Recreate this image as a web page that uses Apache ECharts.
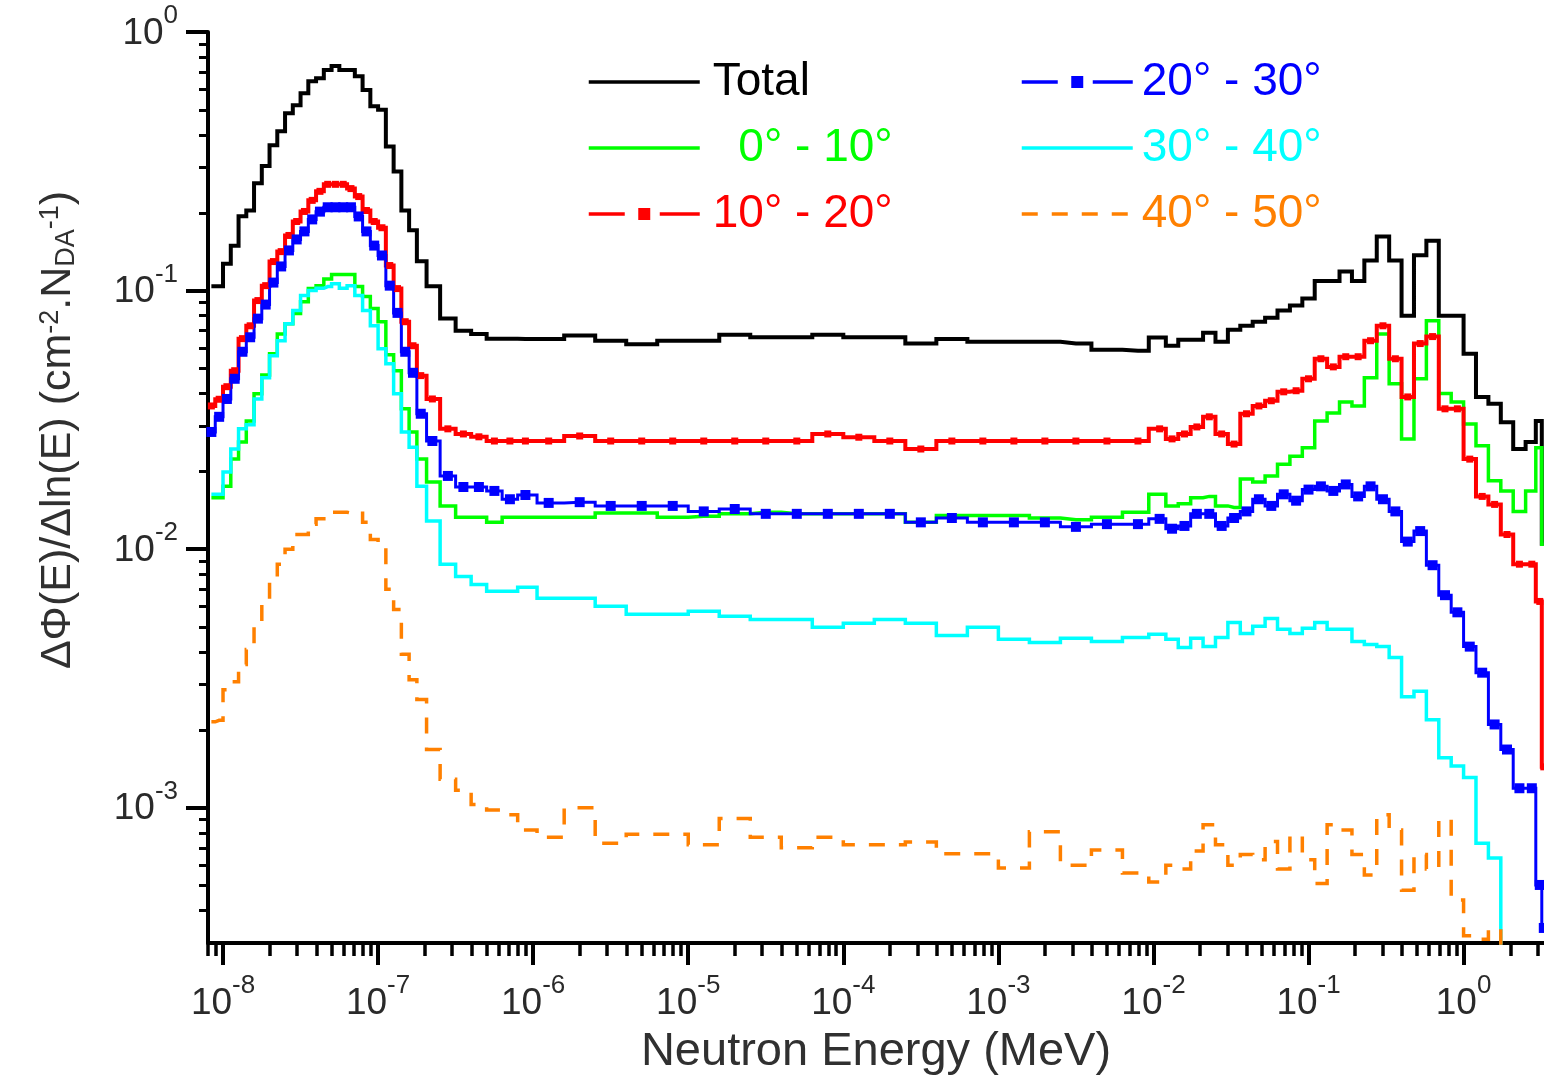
<!DOCTYPE html>
<html>
<head>
<meta charset="utf-8">
<script src="https://cdn.jsdelivr.net/npm/echarts/dist/echarts.min.js"></script>
<style>html,body{margin:0;padding:0;background:#fff}#c{width:1544px;height:1075px}</style>
</head>
<body>
<div id="c"></div>
<script>
// Bin-centre neutron energies (MeV)
const energy = [
  8.41e-9, 9.44e-9, 1.059e-8, 1.189e-8, 1.334e-8, 1.496e-8, 1.679e-8, 1.884e-8, 2.113e-8, 2.371e-8,
  2.661e-8, 2.985e-8, 3.350e-8, 3.758e-8, 4.217e-8, 4.732e-8, 5.309e-8, 5.957e-8, 6.683e-8, 7.499e-8,
  8.414e-8, 9.441e-8, 1.059e-7, 1.189e-7, 1.334e-7, 1.496e-7, 1.679e-7, 1.884e-7,
  2.239e-7, 2.818e-7, 3.548e-7, 4.467e-7, 5.623e-7, 7.079e-7, 8.913e-7,
  1.259e-6, 1.995e-6, 3.162e-6, 5.012e-6, 7.943e-6, 1.259e-5, 1.995e-5, 3.162e-5, 5.012e-5, 7.943e-5,
  1.259e-4, 1.995e-4, 3.162e-4, 5.012e-4, 7.943e-4, 1.259e-3, 1.995e-3, 3.162e-3, 5.012e-3, 7.943e-3,
  0.01096, 0.01318, 0.01585, 0.01905, 0.02291, 0.02754, 0.03311, 0.03981, 0.04786, 0.05754,
  0.06918, 0.08318, 0.1, 0.1202, 0.1445, 0.1738, 0.2089, 0.2512, 0.3020, 0.3631,
  0.4365, 0.5248, 0.6310, 0.7586, 0.9120, 1.096, 1.318, 1.585, 1.905, 2.291,
  2.754, 3.10, 3.29
];

const total = [
  0.104, 0.104, 0.127, 0.149, 0.194, 0.204, 0.260, 0.303, 0.365, 0.413,
  0.485, 0.521, 0.580, 0.645, 0.663, 0.713, 0.738, 0.713, 0.713, 0.675,
  0.596, 0.516, 0.50, 0.361, 0.289, 0.204, 0.171, 0.130,
  0.104, 0.078, 0.070, 0.068, 0.0652, 0.0652, 0.065,
  0.065, 0.067, 0.064, 0.062, 0.064, 0.064, 0.0675, 0.066, 0.066, 0.0675,
  0.066, 0.066, 0.0624, 0.065, 0.0634, 0.0634, 0.0634, 0.0624, 0.059, 0.0585,
  0.0658, 0.0612, 0.0646, 0.0646, 0.0687, 0.0634, 0.0706, 0.0732, 0.0758, 0.0786,
  0.0837, 0.0875, 0.0931, 0.109, 0.109, 0.1186, 0.109, 0.1306, 0.162, 0.1306,
  0.080, 0.137, 0.156, 0.080, 0.080, 0.057, 0.0388, 0.0365, 0.031, 0.0244,
  0.026, 0.0313, 0.0105
];

const deg0_10 = [
  0.0158, 0.0158, 0.0175, 0.0223, 0.026, 0.0313, 0.0399, 0.0472, 0.057, 0.068,
  0.0745, 0.0815, 0.0906, 0.1018, 0.1045, 0.111, 0.1153, 0.1153, 0.1153, 0.1037,
  0.0948, 0.0852, 0.0758, 0.0565, 0.049, 0.0349, 0.0284, 0.0223,
  0.0182, 0.0147, 0.0133, 0.0133, 0.0127, 0.0133, 0.0133,
  0.0133, 0.0133, 0.0138, 0.0138, 0.0133, 0.0134, 0.0137, 0.0139, 0.0137, 0.0137,
  0.0137, 0.0137, 0.0127, 0.0135, 0.0135, 0.0135, 0.0132, 0.013, 0.0133, 0.0139,
  0.0163, 0.0147, 0.015, 0.0158, 0.016, 0.0147, 0.0145, 0.0187, 0.0182, 0.0192,
  0.0213, 0.0229, 0.0247, 0.0313, 0.0336, 0.0371, 0.0358, 0.046, 0.068, 0.0436,
  0.0267, 0.0456, 0.0765, 0.040, 0.0371, 0.0305, 0.0251, 0.0184, 0.0168, 0.014,
  0.0168, 0.0247, 0.01045
];

const deg10_20 = [
  0.0358, 0.038, 0.0425, 0.049, 0.0652, 0.0731, 0.0915, 0.1045, 0.1295, 0.1415,
  0.1634, 0.185, 0.2023, 0.2233, 0.242, 0.2576, 0.2576, 0.2576, 0.248, 0.231,
  0.204, 0.185, 0.175, 0.125, 0.1018, 0.0758, 0.0612, 0.0469,
  0.0381, 0.0292, 0.0279, 0.0272, 0.0262, 0.0262, 0.0262,
  0.0262, 0.0274, 0.0262, 0.0262, 0.0262, 0.0262, 0.0262, 0.0262, 0.0262, 0.0279,
  0.0271, 0.0262, 0.0244, 0.0262, 0.0262, 0.0262, 0.0262, 0.0262, 0.0262, 0.0262,
  0.0292, 0.0267, 0.0279, 0.0297, 0.0325, 0.0279, 0.0255, 0.0334, 0.0358, 0.0375,
  0.0406, 0.041, 0.0456, 0.0545, 0.0507, 0.0555, 0.0555, 0.064, 0.0731, 0.0545,
  0.0388, 0.0624, 0.0664, 0.0349, 0.0349, 0.0223, 0.016, 0.0149, 0.0114, 0.00875,
  0.00875, 0.00628, 0.00144
];

const deg20_30 = [
  0.0284, 0.0325, 0.0381, 0.0456, 0.058, 0.066, 0.0779, 0.0883, 0.1074, 0.124,
  0.143, 0.1577, 0.1694, 0.1885, 0.202, 0.21, 0.21, 0.21, 0.21, 0.1935,
  0.1694, 0.1493, 0.1367, 0.1045, 0.082, 0.058, 0.0481, 0.0334,
  0.0262, 0.0192, 0.0174, 0.0174, 0.0168, 0.0156, 0.0162,
  0.0151, 0.0152, 0.0147, 0.0147, 0.0147, 0.0140, 0.0143, 0.0137, 0.0137, 0.0137,
  0.0137, 0.0137, 0.0127, 0.0132, 0.0127, 0.0127, 0.0127, 0.0122, 0.0125, 0.0125,
  0.0131, 0.012, 0.0123, 0.0137, 0.0137, 0.0123, 0.0132, 0.0140, 0.0156, 0.0147,
  0.0163, 0.0154, 0.0170, 0.0175, 0.0168, 0.0178, 0.016, 0.0175, 0.0156, 0.0140,
  0.0107, 0.01175, 0.00867, 0.00664, 0.0057, 0.0042, 0.00333, 0.0021, 0.00168, 0.00119,
  0.00119, 0.000503, 0.000343
];

const deg30_40 = [
  0.0163, 0.0163, 0.0199, 0.0244, 0.0292, 0.0303, 0.0381, 0.046, 0.056, 0.064,
  0.0745, 0.0837, 0.0957, 0.1, 0.102, 0.1036, 0.1064, 0.102, 0.1045, 0.0957,
  0.0837, 0.0731, 0.0596, 0.0521, 0.0399, 0.0284, 0.0248, 0.0175,
  0.01285, 0.00875, 0.00785, 0.00731, 0.00687, 0.00687, 0.00712,
  0.00646, 0.00646, 0.00601, 0.0056, 0.0056, 0.00575, 0.0055, 0.00535, 0.00535, 0.00499,
  0.00517, 0.00535, 0.00517, 0.00464, 0.00499, 0.00448, 0.00436, 0.00452, 0.0044, 0.00456,
  0.00469, 0.00448, 0.00417, 0.00452, 0.0042, 0.00456, 0.00521, 0.00472, 0.00503, 0.0054,
  0.0049, 0.00472, 0.00495, 0.00521, 0.0049, 0.0049, 0.0044, 0.00428, 0.0042, 0.00381,
  0.00269, 0.00282, 0.00219, 0.00156, 0.00145, 0.00131, 0.00073, 0.00064, 0.00029, 0.00029,
  0.0002, 0.0002, 0.0002
];

const deg40_50 = [
  0.00215, 0.00218, 0.00286, 0.00307, 0.00358, 0.00409, 0.00512, 0.0064, 0.00778, 0.00875,
  0.01, 0.0114, 0.0114, 0.0125, 0.0131, 0.0136, 0.0139, 0.0139, 0.0138, 0.014,
  0.0127, 0.0109, 0.01045, 0.0070, 0.00585, 0.00392, 0.00313, 0.00262,
  0.00168, 0.00129, 0.00117, 0.00103, 0.00098, 0.00094, 0.00082,
  0.00077, 0.001, 0.00073, 0.00079, 0.00079, 0.00072, 0.00091, 0.00077, 0.0007, 0.00077,
  0.00072, 0.00072, 0.000738, 0.000664, 0.000664, 0.000585, 0.000807, 0.0006, 0.000687, 0.00056,
  0.000516, 0.0006, 0.00058, 0.00068, 0.00086, 0.00072, 0.0006, 0.00066, 0.00063, 0.00074,
  0.00058, 0.00078, 0.00063, 0.00051, 0.00086, 0.00082, 0.00066, 0.00055, 0.00094, 0.00082,
  0.00048, 0.00066, 0.00058, 0.0009, 0.00044, 0.00032, 0.00031, 0.00034, 0.0002, 0.0002,
  0.0002, 0.0002, 0.0002
];

const seriesNames = ['Total', '0° - 10°', '10° - 20°', '20° - 30°', '30° - 40°', '40° - 50°'];
const seriesColors = ['#000000', '#00ff00', '#ff0000', '#0000ff', '#00ffff', '#ff8000'];

const xMajorTicks = [1e-8, 1e-7, 1e-6, 1e-5, 1e-4, 1e-3, 1e-2, 1e-1, 1];
const yMajorTicks = [1e-3, 1e-2, 1e-1, 1];
const X_MIN = 8e-9, X_MAX = 3.3, Y_MIN = 3e-4, Y_MAX = 1;

const xMinorTicks = [8e-9, 9e-9];
for (let k = -8; k <= 0; k++) {
  for (let m = 2; m <= 9; m++) {
    const v = m * Math.pow(10, k);
    if (v < X_MAX) xMinorTicks.push(v);
  }
}
const yMinorTicks = [];
for (let k = -4; k <= -1; k++) {
  for (let m = 2; m <= 9; m++) {
    const v = m * Math.pow(10, k);
    if (v > Y_MIN * 1.01 && v < Y_MAX) yMinorTicks.push(v);
  }
}

const FONT = '"Liberation Sans", Arial, sans-serif';
const LABEL_COLOR = '#2a2a2a';

function pairs(vals) { return energy.map((e, i) => [e, vals[i]]); }
function powLabel(v) {
  const p = Math.round(Math.log10(v));
  return '{b|10}{s|' + p + '}';
}
const labelRich = {
  b: { fontSize: 37, lineHeight: 49, verticalAlign: 'bottom', color: LABEL_COLOR, fontFamily: FONT },
  s: { fontSize: 26, lineHeight: 26, verticalAlign: 'top', color: LABEL_COLOR, fontFamily: FONT }
};

const seriesData = [total, deg0_10, deg10_20, deg20_30, deg30_40, deg40_50];
const series = seriesData.map((vals, i) => {
  const s = {
    name: seriesNames[i],
    type: 'line',
    step: 'middle',
    xAxisIndex: 0,
    yAxisIndex: 0,
    data: pairs(vals),
    color: seriesColors[i],
    symbol: 'none',
    showSymbol: false,
    animation: false,
    clip: true,
    lineStyle: { color: seriesColors[i], width: 3.5, cap: 'butt', join: 'miter' },
    itemStyle: { color: seriesColors[i] }
  };
  if (i === 0) s.lineStyle.width = 4;
  if (i === 3) s.lineStyle.width = 3;
  if (i === 2) { s.symbol = 'rect'; s.symbolSize = 7; s.showSymbol = true; s.showAllSymbol = true; s.lineStyle.width = 4; }
  if (i === 3) { s.symbol = 'rect'; s.symbolSize = 10; s.showSymbol = true; s.showAllSymbol = true; }
  if (i === 5) s.lineStyle.type = [16, 14];
  return s;
});

function legendItem(i) {
  const it = { name: seriesNames[i], textStyle: { color: seriesColors[i] } };
  if (i === 2 || i === 3) it.lineStyle = { type: [36, 35, 45, 0] };
  else it.itemStyle = { opacity: 0 };
  return it;
}
const legendCommon = {
  orient: 'vertical', itemWidth: 111, itemHeight: 15, itemGap: 20, padding: 0,
  selectedMode: false, lineStyle: { width: 3.5 },
  textStyle: { fontSize: 46, lineHeight: 46, fontFamily: FONT }
};

const option = {
  animation: false,
  backgroundColor: '#ffffff',
  grid: { left: 208, right: 0, top: 32, bottom: 132, containLabel: false, outerBoundsMode: 'none' },
  legend: [
    Object.assign({}, legendCommon, {
      left: 587, top: 59,
      textStyle: Object.assign({}, legendCommon.textStyle, { padding: [0, 0, 0, 8] }),
      formatter: n => (n === '0° - 10°' ? '  ' + n : n),
      data: [legendItem(0), legendItem(1), legendItem(2)]
    }),
    Object.assign({}, legendCommon, {
      left: 1020, top: 59,
      textStyle: Object.assign({}, legendCommon.textStyle, { padding: [0, 0, 0, 4] }),
      data: [legendItem(3), legendItem(4), legendItem(5)]
    })
  ],
  xAxis: [
    {
      type: 'log', logBase: 10, min: X_MIN, max: X_MAX, position: 'bottom', gridIndex: 0,
      name: 'Neutron Energy (MeV)', nameLocation: 'middle', nameGap: 86,
      nameTextStyle: { fontSize: 47, color: '#303030', fontFamily: FONT },
      axisLine: { show: true, onZero: false, lineStyle: { color: '#000', width: 4 } },
      axisTick: { show: true, inside: false, length: 22, customValues: xMajorTicks, lineStyle: { color: '#000', width: 4 } },
      axisLabel: { show: true, customValues: xMajorTicks, margin: 30, formatter: powLabel, rich: labelRich },
      splitLine: { show: false }, minorTick: { show: false }, minorSplitLine: { show: false }
    },
    {
      type: 'log', logBase: 10, min: X_MIN, max: X_MAX, position: 'bottom', gridIndex: 0,
      axisLine: { show: false, onZero: false },
      axisTick: { show: true, inside: false, length: 13, customValues: xMinorTicks, lineStyle: { color: '#000', width: 3.5 } },
      axisLabel: { show: false }, splitLine: { show: false }
    }
  ],
  yAxis: [
    {
      type: 'log', logBase: 10, min: Y_MIN, max: Y_MAX, position: 'left', gridIndex: 0,
      name: '{m|ΔΦ(E)/Δln(E) (cm}{sup|-2}{m|.N}{sub|DA}{sup|-1}{m|)}',
      nameLocation: 'middle', nameGap: 128, nameRotate: 90,
      nameTextStyle: {
        color: '#303030', fontFamily: FONT, fontSize: 43, padding: [0, 0, 0, 115],
        rich: {
          m: { fontSize: 43, lineHeight: 43, color: '#303030', fontFamily: FONT },
          sup: { fontSize: 27, lineHeight: 27, verticalAlign: 'top', color: '#303030', fontFamily: FONT },
          sub: { fontSize: 27, lineHeight: 27, verticalAlign: 'bottom', color: '#303030', fontFamily: FONT }
        }
      },
      axisLine: { show: true, onZero: false, lineStyle: { color: '#000', width: 4 } },
      axisTick: { show: true, inside: false, length: 22, customValues: yMajorTicks, lineStyle: { color: '#000', width: 4 } },
      axisLabel: { show: true, customValues: yMajorTicks, margin: 30, padding: [0, 0, 9, 0], formatter: powLabel, rich: labelRich },
      splitLine: { show: false }, minorTick: { show: false }, minorSplitLine: { show: false }
    },
    {
      type: 'log', logBase: 10, min: Y_MIN, max: Y_MAX, position: 'left', gridIndex: 0,
      axisLine: { show: false, onZero: false },
      axisTick: { show: true, inside: false, length: 9, customValues: yMinorTicks, lineStyle: { color: '#000', width: 3 } },
      axisLabel: { show: false }, splitLine: { show: false }
    }
  ],
  series: series
};

const chart = echarts.init(document.getElementById('c'), null, { renderer: 'canvas', width: 1544, height: 1075 });
chart.setOption(option);
</script>
</body>
</html>
